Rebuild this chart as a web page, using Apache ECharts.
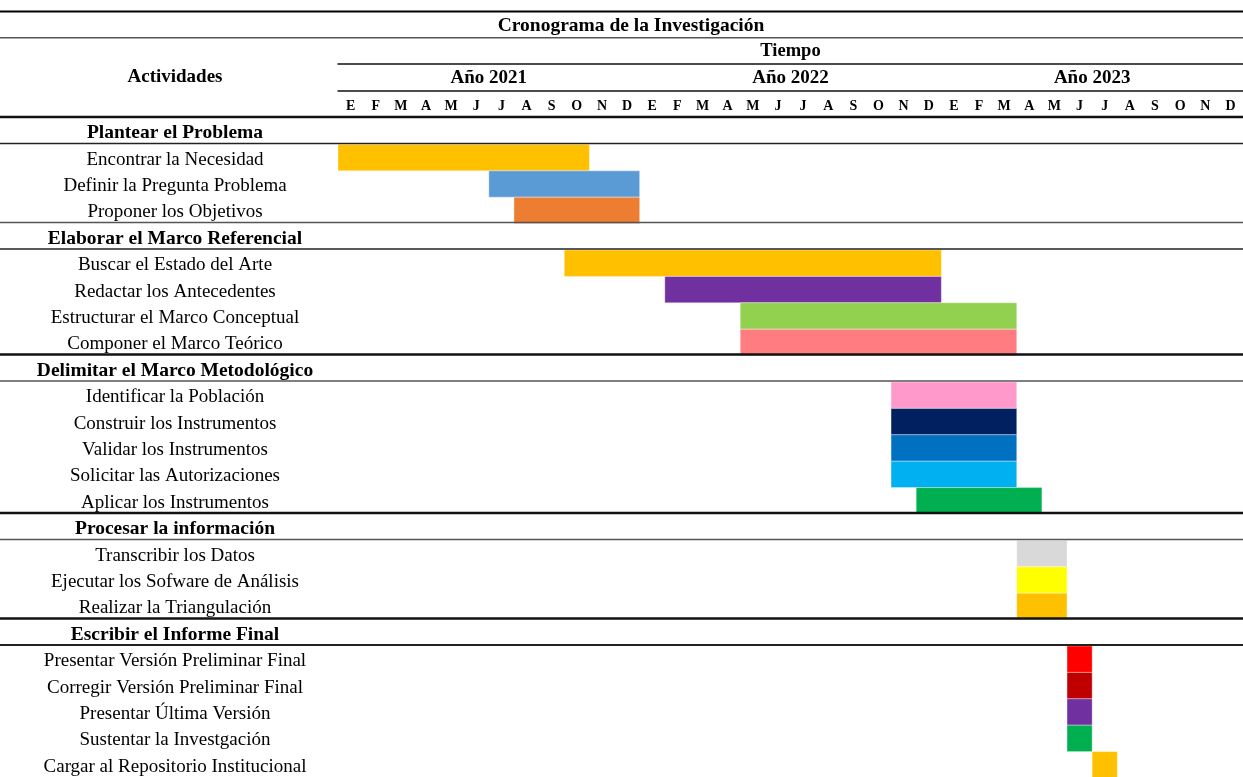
<!DOCTYPE html>
<html>
<head>
<meta charset="utf-8">
<script src="https://cdn.jsdelivr.net/npm/echarts@6/dist/echarts.min.js"></script>
<style>
html,body{margin:0;padding:0;background:#fff;}
#main{width:1243px;height:777px;}
</style>
</head>
<body>
<div id="main"></div>
<script>
// ---- data ----
const rows = [
  'Plantear el Problema',
  'Encontrar la Necesidad',
  'Definir la Pregunta Problema',
  'Proponer los Objetivos',
  'Elaborar el Marco Referencial',
  'Buscar el Estado del Arte',
  'Redactar los Antecedentes',
  'Estructurar el Marco Conceptual',
  'Componer el Marco Teórico',
  'Delimitar el Marco Metodológico',
  'Identificar la Población',
  'Construir los Instrumentos',
  'Validar los Instrumentos',
  'Solicitar las Autorizaciones',
  'Aplicar los Instrumentos',
  'Procesar la información',
  'Transcribir los Datos',
  'Ejecutar los Sofware de Análisis',
  'Realizar la Triangulación',
  'Escribir el Informe Final',
  'Presentar Versión Preliminar Final',
  'Corregir Versión Preliminar Final',
  'Presentar Última Versión',
  'Sustentar la Investgación',
  'Cargar al Repositorio Institucional'
];
const headerRows = [0, 4, 9, 15, 19];
// start month index (0 = Ene 2021), end month index (exclusive); null for section headers
const startMonth = [null, 0, 6, 7, null, 9, 13, 16, 16, null, 22, 22, 22, 22, 23, null, 27, 27, 27, null, 29, 29, 29, 29, 30];
const endMonth   = [null, 10, 12, 12, null, 24, 24, 27, 27, null, 27, 27, 27, 27, 28, null, 29, 29, 29, null, 30, 30, 30, 30, 31];
const barColors  = [null, '#FFC000', '#5B9BD5', '#ED7D31', null, '#FFC000', '#7030A0', '#92D050', '#FF7C80', null,
                    '#FF99CC', '#002060', '#0070C0', '#00B0F0', '#00B050', null, '#D9D9D9', '#FFFF00', '#FFC000', null,
                    '#FF0000', '#C00000', '#7030A0', '#00B050', '#FFC000'];
const monthLetters = ['E','F','M','A','M','J','J','A','S','O','N','D'];
const years = ['Año 2021', 'Año 2022', 'Año 2023'];
const timeLabel = ['Tiempo'];
const chartTitle = 'Cronograma de la Investigación';
const activitiesTitle = 'Actividades';
// separator lines (row boundaries, negative = header area)
const separators = [
  {b: -4, w: 2, c: '#000'},
  {b: -3, w: 1.5, c: '#555'},
  {b: 0, w: 2.5, c: '#111'},
  {b: 1, w: 1.5, c: '#222'},
  {b: 4, w: 1.5, c: '#555'},
  {b: 5, w: 1.5, c: '#222'},
  {b: 9, w: 2.5, c: '#111'},
  {b: 10, w: 1.5, c: '#555'},
  {b: 15, w: 2.5, c: '#111'},
  {b: 16, w: 1.5, c: '#555'},
  {b: 19, w: 2.5, c: '#111'},
  {b: 20, w: 2, c: '#222'}
];

// ---- build ----
const FONT = 'Liberation Serif';
const monthLabels = [];
years.forEach(() => monthLetters.forEach(m => monthLabels.push(m)));

const barData = [];
rows.forEach((r, i) => {
  if (startMonth[i] !== null) {
    barData.push({value: [startMonth[i], i, endMonth[i]], itemStyle: {color: barColors[i]}});
  }
});

const chart = echarts.init(document.getElementById('main'));
const ROWH = 26.5;
const option = {
  animation: false,
  backgroundColor: '#fff',
  title: [
    {text: chartTitle, left: 631, top: 16, textAlign: 'center', padding: 0,
     textStyle: {fontFamily: FONT, fontSize: 19.5, fontWeight: 'bold', color: '#000'}},
    {text: activitiesTitle, left: 175, top: 68, textAlign: 'center', padding: 0,
     textStyle: {fontFamily: FONT, fontSize: 19, fontWeight: 'bold', color: '#000'}}
  ],
  grid: {left: 338, top: 117, width: 908, height: ROWH * rows.length, containLabel: false},
  xAxis: [
    {type: 'value', min: 0, max: 36, show: false},
    {type: 'category', position: 'top', data: monthLabels,
     axisLine: {show: false}, axisTick: {show: false}, splitLine: {show: false},
     axisLabel: {interval: 0, margin: 4, fontFamily: FONT, fontSize: 14, fontWeight: 'bold', color: '#000'}},
    {type: 'category', position: 'top', offset: ROWH, data: years,
     axisLine: {show: true, lineStyle: {color: '#111', width: 1.5}}, axisTick: {show: false},
     axisLabel: {interval: 0, margin: 3, fontFamily: FONT, fontSize: 19, fontWeight: 'bold', color: '#000'}},
    {type: 'category', position: 'top', offset: ROWH * 2, data: timeLabel,
     axisLine: {show: true, lineStyle: {color: '#111', width: 1.5}}, axisTick: {show: false},
     axisLabel: {interval: 0, margin: 3, fontFamily: FONT, fontSize: 18.5, fontWeight: 'bold', color: '#000'}}
  ],
  yAxis: [
    {type: 'category', inverse: true, data: rows,
     axisLine: {show: false}, axisTick: {show: false}, splitLine: {show: false},
     axisLabel: {interval: 0, align: 'center', margin: 163,
       formatter: (v, i) => (headerRows.indexOf(i) >= 0 ? '{h|' + v + '}' : '{a|' + v + '}'),
       rich: {
         h: {fontFamily: FONT, fontSize: 19.5, fontWeight: 'bold', color: '#000', padding: [6, 0, 0, 0]},
         a: {fontFamily: FONT, fontSize: 19, color: '#000', padding: [6, 0, 0, 0]}
       }}},
    {type: 'value', min: 0, max: rows.length, inverse: true, show: false}
  ],
  series: [{
    type: 'custom',
    xAxisIndex: 0, yAxisIndex: 0,
    encode: {x: [0, 2], y: 1},
    renderItem: function (params, api) {
      const p0 = api.coord([api.value(0), api.value(1)]);
      const p1 = api.coord([api.value(2), api.value(1)]);
      const h = api.size([0, 1])[1];
      return {type: 'rect',
        shape: {x: p0[0], y: p0[1] - h / 2 + 1, width: p1[0] - p0[0], height: h},
        style: {fill: api.visual('color'), stroke: 'rgba(255,255,255,0.35)', lineWidth: 1}};
    },
    data: barData
  }]
};
chart.setOption(option);

const W = chart.getWidth();
const lines = separators.map(s => {
  const y = chart.convertToPixel({yAxisIndex: 1}, s.b);
  return {type: 'line', z: 100, shape: {x1: 0, y1: y, x2: W, y2: y},
          style: {stroke: s.c, lineWidth: s.w}};
});
chart.setOption({graphic: lines});
</script>
</body>
</html>
